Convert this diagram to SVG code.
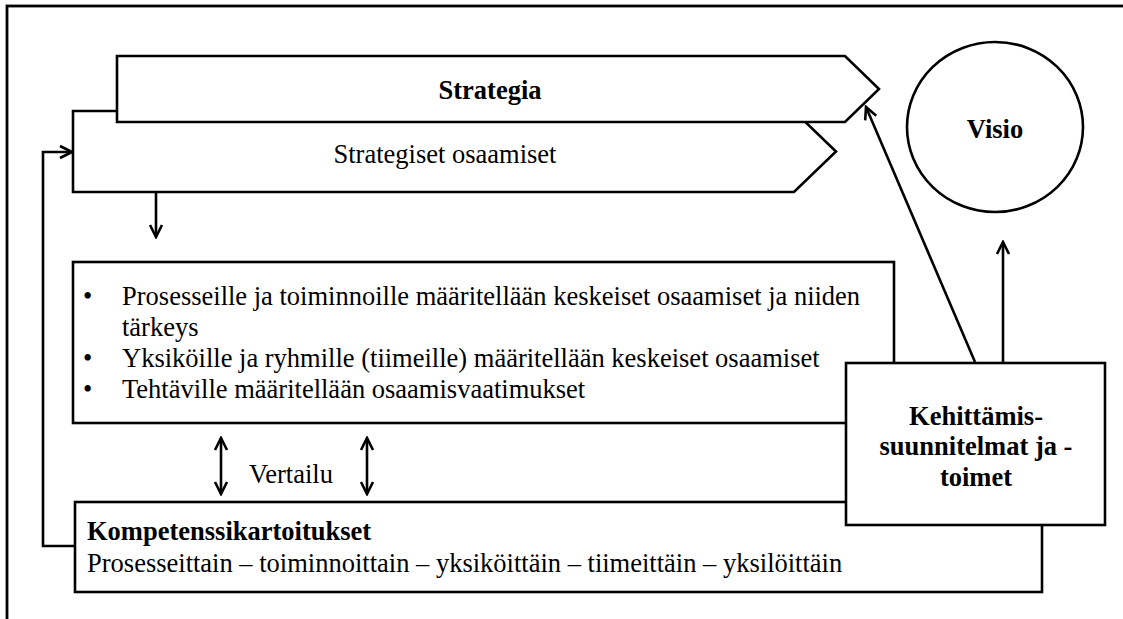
<svg xmlns="http://www.w3.org/2000/svg" width="1123" height="619" viewBox="0 0 1123 619">
<defs>
<style>
.s{fill:#fff;stroke:#000;stroke-width:2.6}
.c{fill:none;stroke:#000;stroke-width:2.6}
.t{font-family:'Liberation Serif','Tinos','DejaVu Serif',serif;font-size:26.5px;fill:#000}
.b{font-weight:bold}
.m{text-anchor:middle}
</style>
<marker id="ah" markerUnits="userSpaceOnUse" markerWidth="16" markerHeight="16" viewBox="-14 -8 16 16" refX="0" refY="0" orient="auto-start-reverse">
<path d="M-12,-6 L0,0 L-12,6" fill="none" stroke="#000" stroke-width="2.6"/>
</marker>
</defs>
<rect x="0" y="0" width="1123" height="619" fill="#fff"/>
<rect id="frame" x="7" y="6" width="1140" height="640" fill="none" stroke="#000" stroke-width="2.8"/>
<g id="strategiset">
<polygon class="s" points="73,111 794,111 836,151.5 794,192 73,192"/>
<text class="t m" x="445" y="163" font-family="Liberation Serif, serif">Strategiset osaamiset</text>
</g>
<g id="strategia">
<polygon class="s" points="117,56 845,56 879,89 845,122 117,122"/>
<text class="t b m" x="490" y="99">Strategia</text>
</g>
<g id="visio">
<ellipse class="s" cx="995" cy="127" rx="88" ry="85"/>
<text class="t b m" x="995" y="138">Visio</text>
</g>
<g id="maarittely">
<rect class="s" x="73" y="262" width="821" height="161"/>
<text class="t" x="83" y="305">•</text>
<text class="t" x="122" y="305">Prosesseille ja toiminnoille määritellään keskeiset osaamiset ja niiden</text>
<text class="t" x="122" y="336">tärkeys</text>
<text class="t" x="83" y="367">•</text>
<text class="t" x="122" y="367">Yksiköille ja ryhmille (tiimeille) määritellään keskeiset osaamiset</text>
<text class="t" x="83" y="398">•</text>
<text class="t" x="122" y="398">Tehtäville määritellään osaamisvaatimukset</text>
</g>
<g id="kompetenssi">
<rect class="s" x="75" y="502" width="967" height="90"/>
<text class="t b" x="87" y="540">Kompetenssikartoitukset</text>
<text class="t" x="87" y="572">Prosesseittain – toiminnoittain – yksiköittäin – tiimeittäin – yksilöittäin</text>
</g>
<g id="kehittamis">
<rect class="s" x="846" y="363" width="259" height="162"/>
<text class="t b m" x="976" y="425">Kehittämis-</text>
<text class="t b m" x="976" y="455">suunnitelmat ja -</text>
<text class="t b m" x="976" y="486">toimet</text>
</g>
<g id="connectors">
<path class="c" d="M156,192 L156,237" marker-end="url(#ah)"/>
<path class="c" d="M75,546 L43,546 L43,152 L72,152" marker-end="url(#ah)"/>
<path class="c" d="M221,438 L221,494" marker-start="url(#ah)" marker-end="url(#ah)"/>
<path class="c" d="M367,438 L367,494" marker-start="url(#ah)" marker-end="url(#ah)"/>
<path class="c" d="M975,362 L866,107" marker-end="url(#ah)"/>
<path class="c" d="M1003,362 L1003,242" marker-end="url(#ah)"/>
<text class="t" x="249" y="483">Vertailu</text>
</g>
</svg>
